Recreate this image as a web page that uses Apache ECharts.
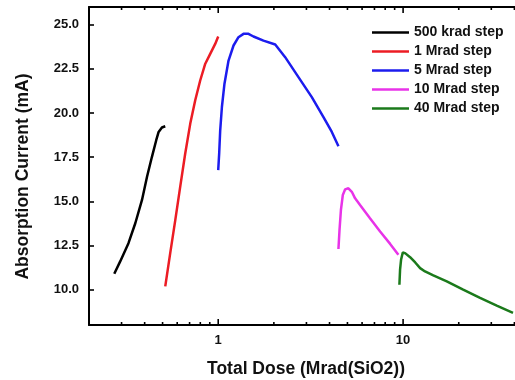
<!DOCTYPE html>
<html>
<head>
<meta charset="utf-8">
<script src="https://cdn.jsdelivr.net/npm/echarts@6/dist/echarts.min.js"></script>
<style>
  html, body { margin: 0; padding: 0; background: #ffffff; }
  #chart { width: 515px; height: 380px; }
</style>
</head>
<body>
<div id="chart"></div>
<script>
// Absorption current versus accumulated total dose, one curve per dose step.
const seriesNames = ['500 krad step', '1 Mrad step', '5 Mrad step', '10 Mrad step', '40 Mrad step'];
const seriesColors = ['#000000', '#ec1c24', '#1c1cee', '#e833e8', '#1b7a1b'];

// Total dose (Mrad(SiO2)) for each curve
const dose500k = [0.274, 0.295, 0.327, 0.356, 0.387, 0.412, 0.438, 0.462, 0.476, 0.496, 0.517];
const dose1M = [0.517, 0.550, 0.586, 0.623, 0.663, 0.706, 0.751, 0.799, 0.851, 0.905, 0.963, 1.0];
const dose5M = [1.0, 1.012, 1.025, 1.047, 1.081, 1.137, 1.210, 1.287, 1.370, 1.458, 1.551, 1.757, 2.034, 2.302, 2.716, 3.208, 3.709, 4.116, 4.470];
const dose10M = [4.47, 4.53, 4.61, 4.72, 4.86, 5.06, 5.28, 5.50, 5.85, 6.62, 7.51, 8.51, 9.43];
const dose40M = [9.55, 9.63, 9.75, 9.96, 10.25, 10.91, 11.63, 12.36, 13.14, 14.57, 17.23, 21.13, 26.08, 32.10, 39.31];

// Absorption current (mA) at those doses
const current500k = [10.90, 11.60, 12.63, 13.76, 15.08, 16.39, 17.52, 18.46, 18.93, 19.18, 19.25];
const current1M = [10.19, 12.07, 13.95, 15.83, 17.71, 19.40, 20.72, 21.84, 22.79, 23.35, 23.91, 24.33];
const current5M = [16.77, 17.71, 19.02, 20.34, 21.66, 22.97, 23.82, 24.29, 24.48, 24.48, 24.33, 24.10, 23.88, 23.16, 22.03, 20.90, 19.77, 18.93, 18.12];
const current10M = [12.30, 13.38, 14.51, 15.36, 15.68, 15.74, 15.54, 15.17, 14.79, 14.04, 13.29, 12.59, 11.97];
const current40M = [10.28, 11.13, 11.69, 12.10, 12.07, 11.84, 11.54, 11.22, 11.03, 10.81, 10.47, 10.00, 9.53, 9.10, 8.69];

// Axis ticks and labels
const yTickValues = [10, 12.5, 15, 17.5, 20, 22.5, 25];
const xLabelValues = [1, 10];
const xMinorTicks = [0.2, 0.3, 0.4, 0.5, 0.6, 0.7, 0.8, 0.9, 2, 3, 4, 5, 6, 7, 8, 9, 20, 30, 40];

const X_MIN = 0.2, X_MAX = 40.3;
const Y_MIN = 8, Y_MAX = 26;

const doses = [dose500k, dose1M, dose5M, dose10M, dose40M];
const currents = [current500k, current1M, current5M, current10M, current40M];

const FONT = '"Liberation Sans", Arial, sans-serif';
const INK = '#111111';

const lineSeries = seriesNames.map((name, i) => ({
  name: name,
  type: 'line',
  data: doses[i].map((d, k) => [d, currents[i][k]]),
  symbol: 'none',
  smooth: false,
  lineStyle: { color: seriesColors[i], width: 2.5 },
  itemStyle: { color: seriesColors[i] },
  z: 3
}));

// Inward tick marks along the bottom and top edges of the log axis
const tickData = xLabelValues.map(v => [v, Y_MIN, 1]).concat(xMinorTicks.map(v => [v, Y_MIN, 0]));
const tickSeries = {
  type: 'custom',
  silent: true,
  clip: false,
  data: tickData,
  encode: { x: 0, y: 1 },
  z: 5,
  renderItem: function (params, api) {
    const v = api.value(0);
    const len = api.value(2) ? 6 : 3;
    const b = api.coord([v, Y_MIN]);
    const t = api.coord([v, Y_MAX]);
    const style = { stroke: '#000000', lineWidth: 1.6 };
    return {
      type: 'group',
      children: [
        { type: 'line', shape: { x1: b[0], y1: b[1], x2: b[0], y2: b[1] - len }, style: style },
        { type: 'line', shape: { x1: t[0], y1: t[1], x2: t[0], y2: t[1] + len }, style: style }
      ]
    };
  }
};

const chart = echarts.init(document.getElementById('chart'), null, { renderer: 'canvas' });
chart.setOption({
  backgroundColor: '#ffffff',
  animation: false,
  textStyle: { fontFamily: FONT },
  grid: { left: 89, right: 0, top: 7, bottom: 55, containLabel: false, outerBoundsMode: 'none' },
  legend: {
    data: seriesNames,
    left: 367,
    top: 18,
    orient: 'vertical',
    itemWidth: 37,
    itemHeight: 14,
    itemGap: 0,
    icon: 'path://M0,6 L37,6 L37,8.5 L0,8.5 Z',
    textStyle: { fontFamily: FONT, fontWeight: 'bold', fontSize: 14, color: INK, lineHeight: 19 },
    selectedMode: false
  },
  xAxis: [
    {
      type: 'log',
      logBase: 10,
      min: X_MIN,
      max: X_MAX,
      position: 'bottom',
      name: 'Total Dose (Mrad(SiO2))',
      nameLocation: 'middle',
      nameGap: 35,
      nameTextStyle: { fontFamily: FONT, fontWeight: 'bold', fontSize: 17.5, color: INK, padding: [0, 0, 0, 8] },
      axisLine: { show: true, lineStyle: { color: '#000000', width: 2 } },
      axisTick: { show: false },
      minorTick: { show: false },
      splitLine: { show: false },
      axisLabel: {
        show: true,
        margin: 9,
        fontFamily: FONT,
        fontWeight: 'bold',
        fontSize: 13,
        color: INK,
        showMinLabel: false,
        showMaxLabel: false,
        formatter: function (v) {
          const hit = xLabelValues.find(t => Math.abs(t - v) < 1e-6 * t);
          return hit !== undefined ? String(hit) : '';
        }
      }
    },
    {
      type: 'log',
      logBase: 10,
      min: X_MIN,
      max: X_MAX,
      position: 'top',
      axisLine: { show: true, lineStyle: { color: '#000000', width: 2 } },
      axisTick: { show: false },
      axisLabel: { show: false },
      splitLine: { show: false }
    }
  ],
  yAxis: {
    type: 'value',
    min: Y_MIN,
    max: Y_MAX,
    name: 'Absorption Current (mA)',
    nameLocation: 'middle',
    nameGap: 57,
    nameTextStyle: { fontFamily: FONT, fontWeight: 'bold', fontSize: 17.5, color: INK, padding: [0, 21, 0, 0] },
    axisLine: { show: true, onZero: false, lineStyle: { color: '#000000', width: 2 } },
    axisTick: { show: true, inside: true, length: 5, customValues: yTickValues, lineStyle: { color: '#000000', width: 1.6 } },
    splitLine: { show: false },
    axisLabel: {
      customValues: yTickValues,
      margin: 10,
      fontFamily: FONT,
      fontWeight: 'bold',
      fontSize: 13,
      color: INK,
      formatter: v => v.toFixed(1)
    }
  },
  series: lineSeries.concat([tickSeries])
});
</script>
</body>
</html>
